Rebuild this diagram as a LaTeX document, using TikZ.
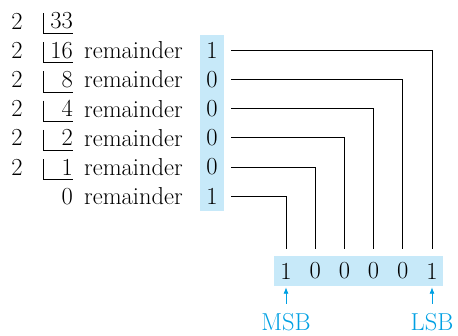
\documentclass[tikz,border=0pt]{standalone}
\usepackage{xcolor}
\usetikzlibrary{positioning,calc,arrows.meta}
\definecolor{bitblue}{RGB}{199,233,249}
\definecolor{tagblue}{RGB}{0,160,227}

\begin{document}
\begin{tikzpicture}[x=1pt, y=-1pt, >={Latex[length=6.5pt,width=5pt]},
  txt/.style={inner sep=0pt, font=\fontsize{24.5}{30}\selectfont},
  rem/.style={txt, fill=bitblue, minimum width=24pt, minimum height=29.5pt, outer xsep=7pt},
  bit/.style={txt, minimum width=29pt, minimum height=30pt},
  wire/.style={line width=0.8pt},
  tag/.style={txt, text=tagblue}]
  \useasboundingbox (0, 0) rectangle (458, 335);

  % divisors
  \node[txt] (d0) at (17, 21) {2};
  \node[txt] (d1) at (17, 50.2) {2};
  \node[txt] (d2) at (17, 79.4) {2};
  \node[txt] (d3) at (17, 108.6) {2};
  \node[txt] (d4) at (17, 137.8) {2};
  \node[txt] (d5) at (17, 167) {2};

  % quotients
  \node[txt, anchor=east] (q0) at (73, 21) {33};
  \node[txt, anchor=east] (q1) at (73, 50.2) {16};
  \node[txt, anchor=east] (q2) at (73, 79.4) {8};
  \node[txt, anchor=east] (q3) at (73, 108.6) {4};
  \node[txt, anchor=east] (q4) at (73, 137.8) {2};
  \node[txt, anchor=east] (q5) at (73, 167) {1};
  \node[txt, anchor=east] (q6) at (73, 196.2) {0};

  \draw[wire] (43, 13) |- (73, 33.5);
  \draw[wire] (43, 42.2) |- (73, 62.7);
  \draw[wire] (43, 71.4) |- (73, 91.9);
  \draw[wire] (43, 100.6) |- (73, 121.1);
  \draw[wire] (43, 129.8) |- (73, 150.3);
  \draw[wire] (43, 159) |- (73, 179.5);

  % remainders
  \node[txt, anchor=west] (w1) at (84, 50.2) {remainder};
  \node[txt, anchor=west] (w2) at (84, 79.4) {remainder};
  \node[txt, anchor=west] (w3) at (84, 108.6) {remainder};
  \node[txt, anchor=west] (w4) at (84, 137.8) {remainder};
  \node[txt, anchor=west] (w5) at (84, 167) {remainder};
  \node[txt, anchor=west] (w6) at (84, 196.2) {remainder};

  \node[rem] (r1) at (212, 50.2) {1};
  \node[rem] (r2) at (212, 79.4) {0};
  \node[rem] (r3) at (212, 108.6) {0};
  \node[rem] (r4) at (212, 137.8) {0};
  \node[rem] (r5) at (212, 167) {0};
  \node[rem] (r6) at (212, 196.2) {1};

  % binary result
  \node[fill=bitblue, minimum width=169pt, minimum height=30pt] (word) at (358.5, 271) {};
  \node[bit] (b6) at (286, 271) {1};
  \node[bit] (b5) at (315.2, 271) {0};
  \node[bit] (b4) at (344.4, 271) {0};
  \node[bit] (b3) at (373.6, 271) {0};
  \node[bit] (b2) at (402.8, 271) {0};
  \node[bit] (b1) at (432, 271) {1};

  \draw[wire] (r1.east) -| ([yshift=7pt]b1.north);
  \draw[wire] (r2.east) -| ([yshift=7pt]b2.north);
  \draw[wire] (r3.east) -| ([yshift=7pt]b3.north);
  \draw[wire] (r4.east) -| ([yshift=7pt]b4.north);
  \draw[wire] (r5.east) -| ([yshift=7pt]b5.north);
  \draw[wire] (r6.east) -| ([yshift=7pt]b6.north);

  \node[tag] (msb) at (286, 322.5) {MSB};
  \node[tag] (lsb) at (432, 322.5) {LSB};
  \draw[wire, tagblue, ->, shorten <=10pt, shorten >=1pt] (msb.north) -- (b6.south);
  \draw[wire, tagblue, ->, shorten <=10pt, shorten >=1pt] (lsb.north) -- (b1.south);
\end{tikzpicture}
\end{document}
